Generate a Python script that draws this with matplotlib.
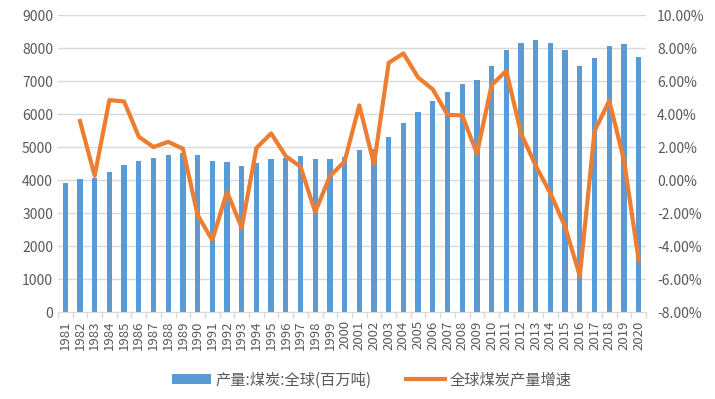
import numpy as np
import matplotlib
matplotlib.use('Agg')
import matplotlib.pyplot as plt
from matplotlib.ticker import FuncFormatter

plt.rcParams['font.family'] = ['Noto Sans CJK SC', 'DejaVu Sans']

anos = [str(a) for a in range(1981, 2021)]
producao = [3910, 4030, 4060, 4240, 4450, 4575, 4670, 4760, 4830, 4760,
            4575, 4545, 4425, 4515, 4636, 4680, 4727, 4636, 4636, 4697,
            4909, 4950, 5303, 5727, 6060, 6394, 6667, 6909, 7030, 7455,
            7939, 8151, 8242, 8151, 7939, 7455, 7697, 8060, 8121, 7727]
crescimento = [np.nan, 3.58, 0.26, 4.85, 4.77, 2.63, 2.00, 2.32, 1.90, -2.12,
               -3.64, -0.71, -2.89, 1.94, 2.83, 1.45, 0.81, -1.94, 0.24, 1.13,
               4.53, 0.97, 7.11, 7.68, 6.22, 5.50, 3.96, 3.92, 1.62, 5.76,
               6.63, 2.83, 0.87, -0.81, -2.83, -5.82, 2.97, 4.81, 1.21, -4.85]

cor_barra = '#5B9BD5'
cor_linha = '#ED7D31'
cor_texto = '#595959'

fig = plt.figure(figsize=(7.15, 3.99), dpi=100)
ax = fig.add_axes([0.081, 0.218, 0.8225, 0.744])
x = np.arange(len(anos))

barras = ax.bar(x, producao, width=0.36, color=cor_barra, label='产量:煤炭:全球(百万吨)', zorder=2)
ax.set_ylim(0, 9000)
ax.set_yticks(range(0, 9001, 1000))
ax.set_xlim(-0.5, len(anos) - 0.5)
ax.set_xticks(x)
ax.set_xticklabels(anos, rotation=90, fontsize=9.5, color=cor_texto)
# marcas entre categorias
ax.set_xticks(np.arange(-0.5, len(anos), 1), minor=True)
ax.tick_params(axis='x', which='major', length=0, pad=6)
ax.tick_params(axis='x', which='minor', length=4, color='#D9D9D9', width=1)
ax.tick_params(axis='y', length=0, labelsize=10, labelcolor=cor_texto)
ax.grid(True, axis='y', color='#D9D9D9', linewidth=1, zorder=0)
for lado in ['top', 'right', 'left']:
    ax.spines[lado].set_visible(False)
ax.spines['bottom'].set_color('#D9D9D9')

ax2 = ax.twinx()
linha, = ax2.plot(x, crescimento, color=cor_linha, linewidth=3, label='全球煤炭产量增速', zorder=3)
ax2.set_ylim(-8, 10)
ax2.set_yticks(range(-8, 11, 2))
ax2.yaxis.set_major_formatter(FuncFormatter(lambda v, p: f'{v:.2f}%'))
ax2.tick_params(axis='y', length=0, labelsize=10, labelcolor=cor_texto, pad=8)
for lado in ['top', 'right', 'left', 'bottom']:
    ax2.spines[lado].set_visible(False)

fig.legend([barras, linha], ['产量:煤炭:全球(百万吨)', '全球煤炭产量增速'],
           loc='center', bbox_to_anchor=(0.52, 0.048), ncol=2, frameon=False,
           fontsize=11, labelcolor=cor_texto, handlelength=2.6,
           handletextpad=0.3, columnspacing=2.2)

fig.savefig('out.png', dpi=100)
